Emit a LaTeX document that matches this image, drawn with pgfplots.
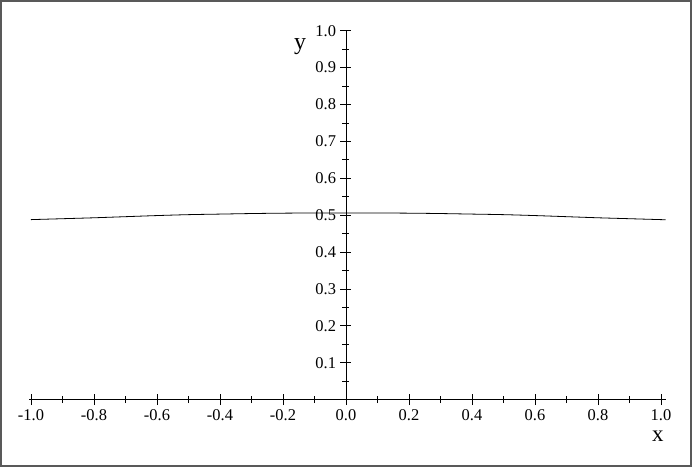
\documentclass[border=0pt]{standalone}
\usepackage{fontspec}
\setmainfont{Liberation Serif}
\usepackage{pgfplots}
\pgfplotsset{compat=1.18}

\begin{document}
\begin{tikzpicture}
% picture frame, 692 x 467 bp, data origin at (0,0)
\useasboundingbox (-346bp,-67.3bp) rectangle (346bp,399.7bp);
\draw[black!65, line width=2bp] (-345bp,-66.3bp) rectangle (345bp,398.7bp);
\begin{axis}[
    at={(0,0)}, anchor=origin,
    x=315bp, y=369bp,
    axis lines=middle,
    axis line style={line width=0.8bp, -},
    xmin=-1.005, xmax=1.015,
    ymin=0, ymax=1,
    xtick={-1,-0.8,...,1.01},
    minor xtick={-0.9,-0.7,...,0.95},
    ytick={0.1,0.2,...,1.01},
    minor ytick={0.05,0.15,...,0.96},
    hide obscured x ticks=false,
    tick align=center,
    major tick length=11bp,
    minor tick length=7bp,
    tick style={line width=0.8bp, black},
    xticklabel style={yshift=-1bp},
    yticklabel style={xshift=-1bp},
    ticklabel style={font=\fontsize{16.5}{16.5}\selectfont},
    /pgf/number format/assume math mode=true,
    /pgf/number format/.cd, fixed, zerofill, precision=1, /pgfplots/.cd,
    xlabel={x}, ylabel={y},
    xlabel style={at={(axis cs:0.99,-0.098)}, anchor=center, font=\fontsize{23}{23}\selectfont},
    ylabel style={at={(axis cs:-0.146,0.958)}, anchor=center, font=\fontsize{24}{24}\selectfont},
    clip=false,
]
\addplot[black, line width=0.8bp, smooth] coordinates {
    (-1.0,0.488) (-0.9,0.4905) (-0.8,0.493) (-0.7,0.496) (-0.6,0.499)
    (-0.5,0.5015) (-0.4,0.503) (-0.3,0.5045) (-0.2,0.5055) (-0.1,0.506)
    (0.0,0.506) (0.1,0.506) (0.2,0.5055) (0.3,0.5045) (0.4,0.503)
    (0.5,0.5015) (0.6,0.499) (0.7,0.496) (0.8,0.493) (0.9,0.4905)
    (1.0,0.488) (1.015,0.4877)
};
\end{axis}
\end{tikzpicture}
\end{document}
